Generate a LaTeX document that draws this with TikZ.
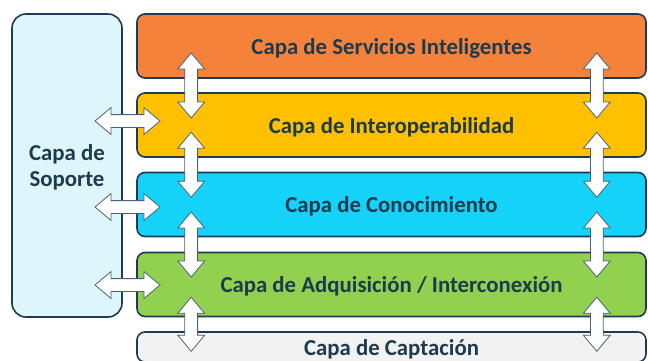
\documentclass[tikz,border=0pt]{standalone}
\usepackage{fontspec}
\setmainfont{Carlito}
\usetikzlibrary{calc,shapes.arrows}

\definecolor{borde}{HTML}{1F3A55}
\definecolor{texto}{HTML}{1E3A4E}
\definecolor{naranja}{HTML}{F5823A}
\definecolor{amarillo}{HTML}{FFC000}
\definecolor{celeste}{HTML}{15D3F8}
\definecolor{verde}{HTML}{92D050}
\definecolor{gris}{HTML}{F2F2F2}
\definecolor{soporte}{HTML}{DFF5FC}

\begin{document}
\begin{tikzpicture}[x=1pt,y=-1pt,semithick,
  capa/.style={draw=borde,line width=1.6pt,rounded corners=8pt,minimum width=509pt,minimum height=64pt,
    text=texto,text depth=0pt,font=\bfseries\fontsize{22.8}{26}\selectfont},
  flecha/.style={double arrow,draw=borde!80,fill=white,line width=0.8pt,inner sep=6pt,
    minimum width=26pt,double arrow head extend=7pt,double arrow tip angle=80}]

  \clip (0,0) rectangle (648,360);
  \useasboundingbox (0,0) rectangle (648,360);

  % capas
  \node[capa,fill=naranja]  (servicios) at (391.5,46)  {Capa de Servicios Inteligentes};
  \node[capa,fill=amarillo] (interop)   at (391.5,125) {Capa de Interoperabilidad};
  \node[capa,fill=celeste]  (conoc)     at (391.5,204.5) {Capa de Conocimiento};
  \node[capa,fill=verde]    (adquis)    at (391.5,284.5) {Capa de Adquisición / Interconexión};
  \node[capa,fill=gris,minimum height=30pt] (captacion) at (391.5,347) {Capa de Captación};

  \node[capa,fill=soporte,minimum width=110pt,minimum height=303pt,rounded corners=14pt,align=center]
    (soporte) at (67,165.5) {Capa de\\Soporte};

  % flechas verticales
  \foreach \a/\b/\l in {servicios/interop/65,interop/conoc/65,conoc/adquis/65,adquis/captacion/54}{
    \node[flecha,rotate=90,minimum height=\l pt] at ($(\a.south west)!0.5!(\b.north west)+(55,0)$) {};
    \node[flecha,rotate=90,minimum height=\l pt] at ($(\a.south east)!0.5!(\b.north east)+(-50,0)$) {};
  }

  % flechas horizontales
  \foreach \c/\dy in {interop/-4,conoc/2.5,adquis/0.5}{
    \node[flecha,minimum height=65pt] at ($(soporte.east |- \c.west)!0.5!(\c.west)+(-2,\dy)$) {};
  }
\end{tikzpicture}
\end{document}
